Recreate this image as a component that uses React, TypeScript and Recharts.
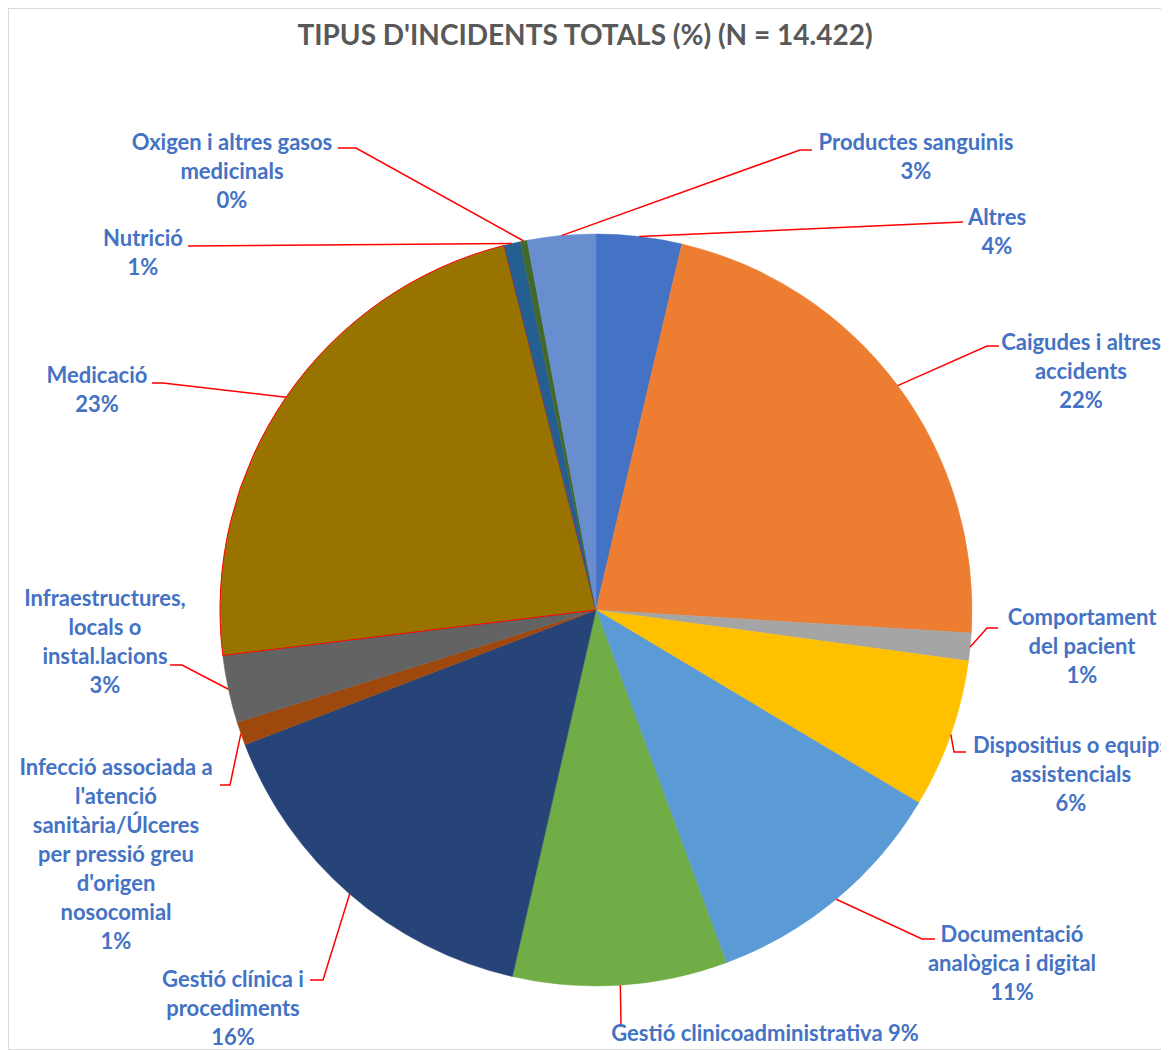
import { PieChart, Pie, Cell } from "recharts"

// categories (line breaks as in the original labels)
const categories = [
  "Altres",
  "Caigudes i altres\naccidents",
  "Comportament\ndel pacient",
  "Dispositius o equips\nassistencials",
  "Documentació\nanalògica i digital",
  "Gestió clinicoadministrativa",
  "Gestió clínica i\nprocediments",
  "Infecció associada a\nl'atenció\nsanitària/Úlceres\nper pressió greu\nd'origen\nnosocomial",
  "Infraestructures,\nlocals o\ninstal.lacions",
  "Medicació",
  "Nutrició",
  "Oxigen i altres gasos\nmedicinals",
  "Productes sanguinis",
]

// share of incidents (%), N = 14.422
const percentages = [3.67, 22.3, 1.2, 6.4, 10.8, 9.2, 15.6, 1.0, 2.9, 23.0, 0.7, 0.3, 2.93]

const colors = [
  "#4472C4", "#ED7D31", "#A5A5A5", "#FFC000", "#5B9BD5", "#70AD47", "#264478",
  "#9E480E", "#636363", "#997300", "#255E91", "#43682B", "#698ED0",
]

// leader line bends and label anchors, relative to the pie centre
const labelLayout = [
  { path: [[367, -388]], tx: 401, ty: -393 },
  { path: [[391, -264], [403, -264]], tx: 485, ty: -268 },
  { path: [[391, 18], [402, 18]], tx: 486, ty: 7 },
  { path: [[358, 142], [370, 142]], tx: 475, ty: 135 },
  { path: [[326, 329], [339, 329]], tx: 416, ty: 324 },
  { path: [[25, 416]], tx: 169, ty: 423, inline: true },
  { path: [[-273, 370], [-286, 370]], tx: -363, ty: 369 },
  { path: [[-366, 175], [-376, 175]], tx: -480, ty: 157 },
  { path: [[-414, 55], [-426, 55]], tx: -491, ty: -12 },
  { path: [[-433, -227], [-444, -227]], tx: -499, ty: -235 },
  { path: [[-408, -364]], tx: -453, ty: -372 },
  { path: [[-240, -462], [-258, -462]], tx: -364, ty: -468 },
  { path: [[204, -460], [216, -460]], tx: 320, ty: -468 },
]

const data = categories.map((name, i) => ({ name, value: percentages[i] }))

const RADIAN = Math.PI / 180
const FONT = "Lato, 'Open Sans', sans-serif"

function renderLabel(props: any) {
  const { cx, cy, midAngle, outerRadius, index, percent } = props
  const lay = labelLayout[index]
  const sx = cx + outerRadius * Math.cos(-midAngle * RADIAN)
  const sy = cy + outerRadius * Math.sin(-midAngle * RADIAN)
  const pts = [[sx, sy], ...lay.path.map(([dx, dy]) => [cx + dx, cy + dy])]
  const pct = `${Math.round(percent * 100)}%`
  const lines = lay.inline ? [`${categories[index]} ${pct}`] : [...categories[index].split("\n"), pct]
  return (
    <g key={`lbl-${index}`}>
      <polyline
        points={pts.map((p) => p.join(",")).join(" ")}
        fill="none"
        stroke="#FF0000"
        strokeWidth={1.5}
      />
      <text
        x={cx + lay.tx}
        y={cy + lay.ty + 8}
        textAnchor="middle"
        fill="#4472C4"
        fontFamily={FONT}
        fontWeight={700}
        fontSize={22}
      >
        {lines.map((l, j) => (
          <tspan key={j} x={cx + lay.tx} dy={j === 0 ? 0 : 29}>
            {l}
          </tspan>
        ))}
      </text>
    </g>
  )
}

export default function App() {
  return (
    <div
      style={{
        position: "relative",
        width: 1161,
        height: 1042,
        boxSizing: "border-box",
        borderLeft: "1px solid #D9D9D9",
        borderTop: "1px solid #D9D9D9",
        borderBottom: "1px solid #D9D9D9",
        background: "#fff",
        overflow: "hidden",
      }}
    >
      <style>{`html,body{overflow:hidden} .recharts-pie-sectors{filter:drop-shadow(0 0 5px rgba(0,0,0,0.25))}`}</style>
      <div
        style={{
          position: "absolute",
          left: 0,
          width: 1160,
          top: 8,
          textAlign: "center",
          fontFamily: FONT,
          fontWeight: 700,
          fontSize: 28,
          color: "#595959",
          paddingRight: 8,
          boxSizing: "border-box",
        }}
      >
        TIPUS D'INCIDENTS TOTALS (%) (N = 14.422)
      </div>
      <PieChart width={1160} height={1041} margin={{ top: 0, right: 0, bottom: 0, left: 0 }}>
        <Pie
          data={data}
          dataKey="value"
          nameKey="name"
          cx={587}
          cy={601}
          outerRadius={376}
          startAngle={90}
          endAngle={-270}
          label={renderLabel}
          labelLine={false}
          isAnimationActive={false}
        >
          {data.map((d, i) => (
            <Cell
              key={d.name}
              fill={colors[i]}
              stroke={i === 9 ? "#FF0000" : colors[i]}
              strokeWidth={i === 9 ? 1 : 0.5}
            />
          ))}
        </Pie>
      </PieChart>
    </div>
  )
}
